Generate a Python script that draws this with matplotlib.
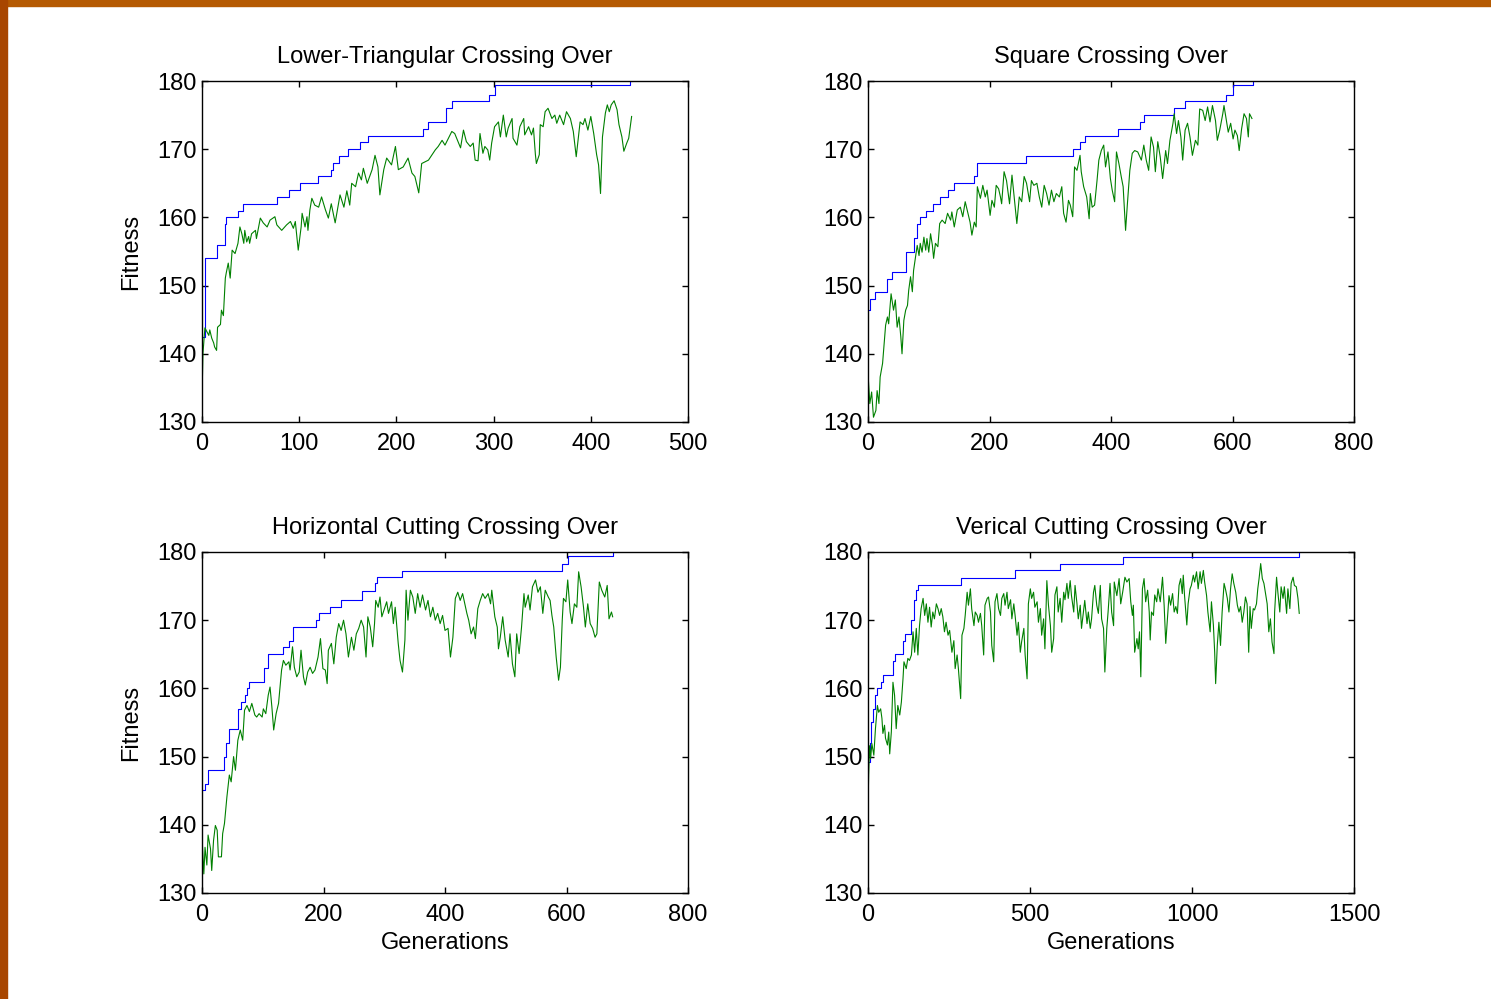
import matplotlib.pyplot as plt
from matplotlib.patches import Rectangle

# ---- values ----
# Lower-Triangular: green = generation fitness, blue = best so far (steps)
lt_gen = [0, 1, 3, 7, 8, 10, 12, 13, 15, 16, 19, 20, 22, 24, 25, 27, 29, 31, 34, 37,
          39, 41, 43, 44, 46, 48, 49, 51, 55, 56, 60, 63, 67, 70, 75, 77, 82, 87, 91, 94,
          96, 99, 102, 103, 106, 108, 109, 111, 113, 116, 120, 123, 127, 130, 133, 137, 142, 146, 149, 152,
          154, 158, 161, 164, 166, 170, 175, 178, 181, 183, 187, 190, 195, 199, 202, 207, 212, 216, 219, 223,
          226, 233, 240, 243, 247, 250, 257, 260, 266, 269, 272,
          276, 279, 281, 284, 286, 289, 291, 294, 296, 298, 301, 305, 307, 310, 313, 315, 319, 320, 324, 327,
          331, 332, 336, 339, 341, 343, 344, 347, 348, 351, 353, 356, 360, 363, 365, 368, 372, 375, 379, 382,
          385, 389, 392, 394, 397, 400, 403, 406, 408, 410, 412, 415, 417, 419, 421, 424, 427, 429, 432, 434,
          437, 439, 442]
lt_fit = [133.7, 140.1, 143.8, 142.7, 143.5, 142.3, 141.6, 141.0, 140.5, 143.9, 144.3, 146.4, 145.6, 151.1, 151.9, 153.3, 151.1, 155.2, 154.7, 156.2,
          158.6, 157.6, 156.2, 158.1, 156.4, 157.2, 156.2, 157.6, 158.1, 156.9, 159.9, 159.2, 158.6, 159.6, 160.1, 158.9, 158.1, 158.9, 159.4, 158.4,
          159.4, 155.2, 158.6, 160.6, 158.6, 160.1, 158.1, 161.1, 162.8, 161.8, 161.5, 163.0, 161.1, 159.9, 162.0, 159.2, 163.3, 161.5, 163.9, 161.8,
          165.0, 164.5, 166.5, 165.5, 167.2, 165.0, 167.0, 169.1, 167.4, 163.3, 167.0, 168.7, 167.7, 170.4, 167.0, 167.4, 168.7, 166.5, 166.0, 163.6,
          167.9, 168.4, 169.9, 170.4, 171.3, 170.6, 172.6, 172.3, 170.2, 172.8, 171.1,
          170.4, 170.9, 168.4, 168.3, 172.3, 169.4, 170.4, 169.9, 168.4, 170.9, 173.3, 174.0, 171.8, 175.0, 171.8, 173.1, 174.5, 171.6, 170.6, 173.3,
          174.5, 172.1, 173.3, 172.1, 173.1, 169.2, 167.9, 169.2, 173.6, 173.3, 175.5, 176.0, 174.5, 175.0, 173.8, 175.0, 173.6, 175.5, 174.5, 172.6,
          168.9, 174.0, 173.6, 174.5, 172.8, 174.8, 172.3, 169.2, 167.7, 163.5, 171.8, 175.3, 176.5, 175.5, 176.5, 177.1, 175.8, 173.6, 171.8, 169.7,
          170.9, 171.6, 174.8]
lt_best_gen = [0, 3, 15, 24, 25, 37, 42, 77, 90, 101, 119, 133, 135, 141, 150, 163, 171, 227, 232, 251, 257, 295, 301, 440, 442]
lt_best_fit = [142.5, 154, 156, 159, 160, 161, 162, 163, 164, 165, 166, 167, 168, 169, 170, 171, 172, 173, 174, 176, 177, 178, 179.4, 180, 180]

# Square
sq_gen = [0, 3, 6, 9, 13, 15, 18, 20, 24, 26, 29, 32, 34, 38, 42, 45, 48, 51, 54, 56,
          59, 62, 65, 67, 70, 73, 75, 78, 81, 84, 86, 89, 92, 95, 97, 100, 103, 106, 108, 111,
          115, 118, 122, 127, 131, 136, 138, 142, 147, 152, 156, 160, 164, 168, 171, 175, 178, 180, 185, 189,
          193, 196, 201, 204, 208, 211, 215, 218, 220, 224, 228, 233, 237, 240, 245, 249, 253, 257, 261, 266,
          269, 273, 278, 282, 286, 290, 294, 298, 302, 306, 310, 315, 319, 322, 326, 330, 333, 337, 340, 344,
          349, 351, 355, 360, 364, 366, 369, 373, 377, 380, 384, 388, 391, 395, 399, 402, 406, 409, 413, 417,
          420, 424, 427, 431, 435, 439, 444, 450, 454, 458, 462, 466, 470, 473, 477, 481, 485, 490, 493, 497,
          502, 504, 508, 511, 515, 518, 522, 526, 530, 534, 539, 543, 546, 551, 555, 559, 563, 567, 572, 575,
          579, 584, 586, 590, 593, 597, 601, 604, 608, 611, 615, 619, 623, 626, 628, 632]
sq_fit = [137.1, 132.7, 134.4, 130.7, 131.7, 134.6, 132.7, 136.6, 138.6, 140.8, 144.2, 145.4, 144.4, 148.8, 146.4, 147.9, 143.9, 145.4, 142.5, 140.0,
          144.9, 146.4, 147.1, 149.3, 151.3, 149.1, 152.2, 154.0, 155.9, 154.4, 156.2, 154.9, 157.1, 155.2, 156.9, 154.9, 157.6, 155.9, 154.0, 156.2,
          155.7, 159.1, 159.6, 159.1, 160.6, 159.6, 160.8, 158.6, 161.1, 161.5, 160.1, 162.3, 160.8, 159.3, 157.4, 159.3, 158.6, 164.5, 162.8, 164.7,
          163.0, 164.0, 160.3, 162.5, 161.5, 164.7, 164.2, 163.0, 162.0, 166.7, 165.4, 162.0, 166.2, 163.5, 159.1, 163.0, 162.3, 166.0, 165.0, 162.3,
          165.4, 164.7, 165.0, 163.0, 161.5, 164.7, 163.5, 161.8, 164.0, 162.3, 163.5, 163.0, 164.5, 160.6, 159.3, 162.5, 161.8, 160.1, 167.4, 166.9,
          169.1, 166.7, 164.5, 163.0, 159.8, 163.5, 161.5, 161.8, 165.4, 168.4, 169.8, 170.6, 167.4, 169.6, 165.7, 164.0, 162.3, 169.6, 167.9, 165.9,
          164.5, 158.1, 162.0, 166.9, 169.4, 169.8, 169.6, 168.4, 170.6, 168.4, 166.9, 171.8, 170.3, 166.7, 171.1, 168.9, 165.7, 169.8, 167.9, 171.3,
          173.8, 175.2, 172.3, 174.2, 171.8, 168.4, 172.8, 173.8, 171.8, 169.1, 171.3, 170.6, 175.9, 175.7, 174.2, 176.2, 174.0, 176.4, 174.2, 171.3,
          172.8, 175.2, 176.4, 174.2, 172.5, 173.8, 171.5, 172.8, 172.0, 169.8, 173.0, 175.2, 174.5, 171.8, 175.2, 174.5]
sq_best_gen = [0, 3, 11, 31, 40, 62, 75, 81, 86, 95, 107, 119, 131, 142, 174, 179, 260, 338, 349, 358, 412, 447, 455, 504, 522, 589, 600, 633, 634]
sq_best_fit = [146.4, 148, 149, 151, 152, 155, 157, 159, 160, 161, 162, 163, 164, 165, 166, 168, 169, 170, 171, 172, 173, 174, 175, 176, 177, 178, 179.4, 180, 180]

# Horizontal Cutting
hc_gen = [0, 3, 5, 8, 10, 14, 16, 19, 22, 25, 27, 32, 34, 37, 41, 45, 48, 52, 55, 59,
          63, 67, 70, 74, 78, 82, 87, 90, 94, 99, 101, 105, 109, 112, 115, 118, 122, 126, 131, 134,
          138, 143, 145, 149, 152, 156, 160, 163, 167, 170, 174, 178, 182, 186, 191, 195, 199, 203, 206, 208,
          213, 217, 221, 225, 229, 233, 237, 241, 246, 250, 254, 258, 262, 266, 270, 273, 277, 281, 284, 286,
          290, 293, 296, 301, 304, 307, 312, 315, 318, 323, 326, 330, 334, 336, 339, 343, 347, 351, 355, 359,
          363, 368, 372, 376, 380, 384, 388, 392, 396, 400, 405, 409, 413, 417, 421, 425, 429, 433, 436, 439,
          443, 447, 450, 454, 458, 462, 466, 471, 475, 477, 482, 486, 488, 491, 495, 499, 504, 507, 511, 515,
          518, 522, 526, 530, 532, 537, 540, 544, 549, 553, 557, 561, 565, 570, 573, 576, 579, 583, 587, 590,
          593, 595, 599, 602, 606, 609, 613, 617, 620, 624, 628, 631, 635, 639, 643, 647, 650, 654, 658, 663,
          667, 670, 674, 676]
hc_fit = [138.2, 132.8, 136.7, 134.1, 138.5, 136.5, 133.3, 137.7, 139.9, 139.2, 135.3, 135.3, 138.7, 140.2, 144.1, 147.3, 146.3, 150.0, 148.0, 152.4,
          153.9, 152.4, 156.8, 157.5, 156.6, 157.8, 156.1, 155.8, 156.3, 155.8, 157.0, 156.3, 159.0, 160.2, 157.3, 153.9, 156.3, 157.8, 162.7, 164.1,
          163.4, 163.9, 162.7, 166.1, 163.1, 161.7, 162.4, 165.6, 161.7, 160.5, 162.4, 163.1, 162.2, 162.7, 164.6, 167.3, 162.9, 162.7, 160.7, 165.6,
          166.6, 163.6, 167.5, 169.5, 168.5, 170.0, 168.0, 164.6, 167.5, 165.6, 168.0, 168.8, 170.0, 169.0, 164.6, 170.5, 169.0, 166.1, 169.5, 172.9,
          171.9, 173.4, 170.5, 171.9, 172.7, 171.0, 172.7, 169.5, 171.9, 166.6, 164.1, 162.4, 167.1, 174.4, 170.0, 174.4, 173.4, 171.0, 173.9, 171.9,
          173.7, 171.5, 172.9, 170.5, 171.9, 170.0, 171.0, 169.5, 170.7, 168.5, 168.8, 164.6, 167.5, 173.2, 174.1, 172.9, 173.9, 172.2, 171.0, 170.0,
          168.0, 169.0, 167.3, 171.7, 172.9, 173.9, 173.2, 173.9, 172.4, 174.4, 170.5, 169.0, 165.8, 167.5, 170.5, 167.1, 164.6, 168.0, 163.6, 161.7,
          168.0, 165.1, 169.0, 173.9, 171.9, 173.7, 171.5, 174.9, 175.9, 174.1, 174.9, 171.0, 174.4, 173.4, 172.9, 170.7, 169.0, 164.6, 161.2, 163.1,
          170.0, 173.2, 172.7, 175.9, 171.2, 169.5, 172.4, 171.9, 177.1, 174.9, 171.9, 169.0, 172.4, 169.5, 168.8, 167.5, 168.0, 175.6, 174.4, 173.4,
          175.1, 170.2, 171.2, 170.5]
hc_best_gen = [0, 5, 10, 36, 40, 45, 59, 64, 70, 74, 77, 102, 109, 134, 144, 150, 187, 193, 210, 228, 264, 285, 288, 329, 593, 603, 676, 677]
hc_best_fit = [145.1, 146, 148, 150, 152, 154, 157, 158, 159, 160, 161, 163, 165, 166, 167, 169, 170, 171, 172, 173, 174.3, 175.5, 176.3, 177.2, 178.3, 179.4, 180, 180]

# Vertical Cutting
vc_gen = [0, 1, 2, 5, 8, 12, 18, 23, 29, 33, 39, 43, 46, 51, 54, 60, 64, 67, 72, 77,
          82, 87, 92, 98, 103, 108, 111, 118, 123, 128, 134, 139, 144, 149, 154, 159, 164, 170, 175, 180,
          185, 190, 195, 200, 205, 211, 216, 221, 226, 231, 236, 241, 247, 252, 259, 265, 269, 275, 279, 286,
          290, 296, 300, 306, 310, 316, 320, 327, 331, 337, 341, 347, 351, 357, 361, 368, 372, 378, 382, 388,
          392, 398, 403, 409, 413, 419, 423, 429, 433, 440, 444, 450, 454, 460, 464, 470, 474, 481, 485, 491,
          495, 501, 505, 511, 515, 522, 526, 532, 536, 542, 546, 552, 557, 563, 567, 573, 577, 583, 587, 593,
          598, 604, 608, 614, 618, 624, 628, 635, 639, 645, 649, 655, 659, 665, 669, 676, 680, 686, 690, 696,
          700, 706, 711, 717, 721, 727, 731, 737, 741, 747, 752, 758, 760, 768, 775, 780, 786, 793, 799, 806,
          811, 816, 819, 823, 830, 834, 838, 842, 847, 852, 857, 863, 868, 871, 875, 881, 885, 891, 895, 902,
          909, 914, 919, 924, 929, 934, 940, 945, 950, 955, 960, 965, 970, 973, 977, 984, 988, 994, 998, 1004,
          1008, 1014, 1019, 1025, 1029, 1035, 1039, 1045, 1049, 1056, 1060, 1066, 1070, 1073, 1078, 1083, 1088, 1093, 1099, 1104,
          1109, 1114, 1119, 1124, 1129, 1135, 1140, 1145, 1150, 1155, 1160, 1165, 1170, 1175, 1179, 1183, 1189, 1193, 1199, 1203,
          1207, 1212, 1217, 1222, 1227, 1232, 1237, 1242, 1247, 1253, 1255, 1261, 1265, 1271, 1275, 1281, 1285, 1292, 1296, 1302,
          1306, 1312, 1316, 1322, 1327, 1331]
vc_fit = [135.8, 144.8, 147.3, 151.6, 149.7, 151.9, 150.2, 154.1, 157.5, 156.5, 157.0, 155.6, 153.4, 154.6, 152.7, 151.7, 153.6, 150.4, 153.6, 160.9,
          159.0, 154.1, 157.5, 156.1, 158.0, 161.4, 163.9, 162.9, 164.4, 164.1, 164.9, 168.3, 165.3, 168.8, 164.9, 169.2, 171.7, 173.2, 170.7, 172.4,
          169.7, 171.9, 169.0, 171.2, 170.2, 172.4, 171.7, 170.7, 171.7, 170.5, 168.3, 169.7, 167.8, 168.5, 165.3, 167.0, 162.9, 164.9, 162.9, 158.5,
          167.8, 168.8, 170.7, 174.1, 172.2, 174.6, 171.7, 169.2, 171.2, 170.7, 169.7, 171.0, 169.2, 164.9, 172.2, 173.2, 173.4, 171.2, 166.3, 163.9,
          172.7, 173.9, 171.7, 170.7, 173.2, 173.9, 172.2, 174.1, 171.7, 173.0, 170.2, 172.4, 170.7, 167.8, 169.7, 165.3, 166.8, 168.8, 164.9, 161.4,
          172.4, 174.6, 173.2, 174.1, 171.9, 172.7, 169.7, 171.7, 167.8, 170.2, 165.8, 175.8, 172.2, 169.2, 165.3, 167.3, 173.7, 174.9, 171.2, 173.2,
          169.7, 174.1, 173.0, 175.4, 173.2, 175.8, 173.6, 171.2, 175.1, 172.4, 170.2, 172.2, 168.8, 171.2, 172.9, 169.5, 171.2, 168.8, 170.2, 174.1,
          175.1, 172.2, 171.0, 175.1, 170.2, 168.8, 162.4, 168.8, 171.2, 175.4, 171.2, 169.2, 175.6, 173.6, 176.1, 172.4, 174.1, 176.3, 175.6, 176.1,
          172.7, 170.7, 172.2, 165.3, 167.3, 165.8, 168.3, 161.7, 174.6, 176.1, 172.7, 174.4, 171.2, 167.1, 171.2, 170.7, 173.7, 172.7, 174.6, 172.7,
          176.3, 172.2, 166.6, 170.2, 173.6, 172.2, 173.9, 171.2, 172.0, 171.0, 175.1, 176.1, 173.9, 176.6, 173.6, 169.3, 172.4, 174.6, 175.1, 176.6,
          175.6, 177.1, 174.6, 177.1, 175.4, 177.3, 175.6, 173.6, 171.2, 168.3, 172.7, 169.3, 165.3, 160.7, 166.3, 169.7, 166.3, 171.2, 175.4, 174.4,
          173.2, 171.2, 174.6, 176.8, 175.4, 174.1, 172.2, 171.2, 172.0, 169.7, 171.2, 173.4, 172.4, 165.3, 172.0, 168.8, 171.7, 171.5, 172.4, 174.6,
          176.1, 178.3, 176.1, 175.4, 173.9, 172.4, 168.3, 170.2, 166.8, 165.1, 171.2, 176.3, 174.1, 171.2, 174.9, 173.2, 174.9, 171.0, 174.6, 171.7,
          175.4, 176.3, 175.1, 174.9, 173.2, 171.0]
vc_best_gen = [0, 5, 8, 16, 21, 29, 41, 46, 77, 82, 108, 113, 134, 142, 149, 154, 288, 454, 593, 788, 1330, 1331]
vc_best_fit = [149.2, 152, 155, 157, 159, 160, 161, 162, 164, 165, 167, 168, 170, 173, 174.4, 175.2, 176.2, 177.3, 178.3, 179.3, 180, 180]

titles = ['Lower-Triangular Crossing Over', 'Square Crossing Over',
          'Horizontal Cutting Crossing Over', 'Verical Cutting Crossing Over']
x_max = [500, 800, 800, 1500]
x_step = [100, 200, 200, 500]

plt.rcParams['font.family'] = ['Liberation Sans', 'DejaVu Sans']
FS = 17

W, H = 1491, 999
fig = plt.figure(figsize=(W / 100, H / 100), dpi=100)

# orange slide border (top and left)
fig.add_artist(Rectangle((0, 1 - 6 / H), 1, 6 / H, transform=fig.transFigure,
                         color='#B55A02', zorder=0))
fig.add_artist(Rectangle((0, 0), 7 / W, 1, transform=fig.transFigure,
                         color='#A84600', zorder=0))

# axes boxes in pixels (left, top)
corners = [(202, 81), (868, 81), (202, 552), (868, 552)]
aw, ah = 486, 341

series = [(lt_gen, lt_fit, lt_best_gen, lt_best_fit),
          (sq_gen, sq_fit, sq_best_gen, sq_best_fit),
          (hc_gen, hc_fit, hc_best_gen, hc_best_fit),
          (vc_gen, vc_fit, vc_best_gen, vc_best_fit)]

for i, (gen, fit, bgen, bfit) in enumerate(series):
    x0, y0 = corners[i]
    ax = fig.add_axes([x0 / W, 1 - (y0 + ah) / H, aw / W, ah / H])
    ax.step(bgen, bfit, where='post', color='#0000FF', linewidth=0.8)
    ax.plot(gen, fit, color='#008000', linewidth=0.8)

    ax.set_xlim(0, x_max[i])
    ax.set_ylim(130, 180)
    ax.set_xticks(range(0, x_max[i] + 1, x_step[i]))
    ax.set_yticks(range(130, 181, 10))
    ax.tick_params(direction='in', top=True, right=True, length=4, width=1,
                   labelsize=FS, pad=4)
    ax.tick_params(axis='x', pad=8)
    for sp in ax.spines.values():
        sp.set_linewidth(1)
    ax.set_title(titles[i], fontsize=FS, pad=13)
    if i % 2 == 0:
        ax.set_ylabel('Fitness', fontsize=FS, labelpad=11)
    if i >= 2:
        ax.set_xlabel('Generations', fontsize=FS, labelpad=4)

fig.savefig('out.png', dpi=100)
